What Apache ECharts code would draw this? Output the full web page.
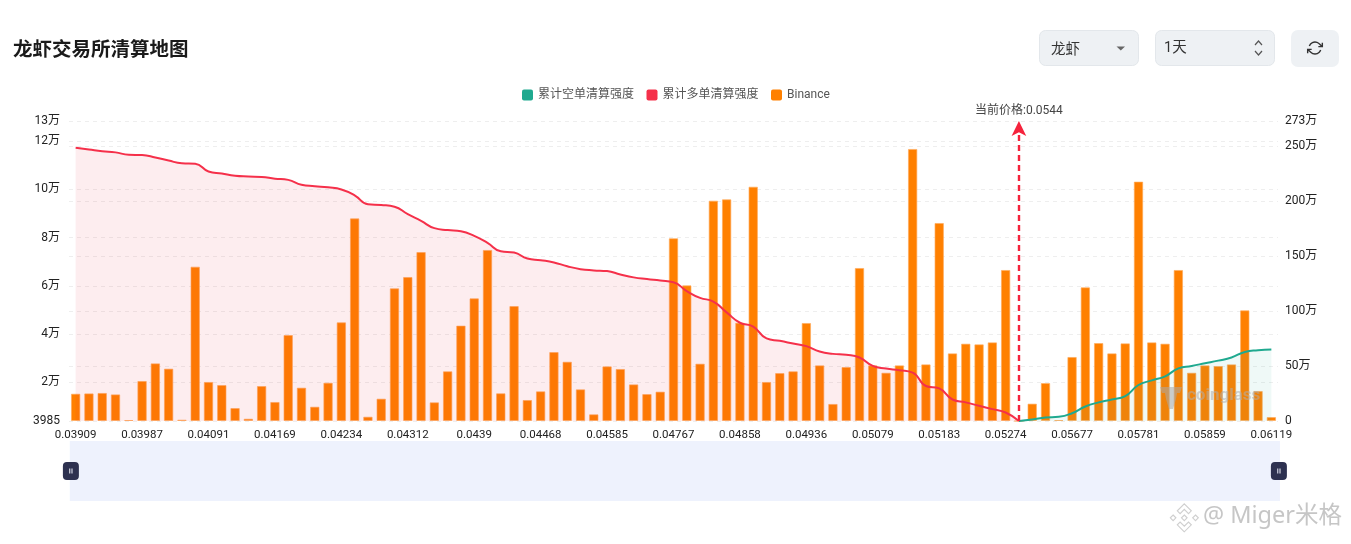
<!DOCTYPE html>
<html><head><meta charset="utf-8">
<style>html,body{margin:0;padding:0;background:#fff}#c{width:1351px;height:544px}</style>
<script src="https://cdn.jsdelivr.net/npm/echarts@6/dist/echarts.min.js"></script>
</head><body><div id="c"></div>
<script>
// Only every fifth price level is legible in the picture; the others stay blank.
const categories = [
'0.03909','','','','','0.03987','','','','','0.04091','','','','','0.04169','','','','',
'0.04234','','','','','0.04312','','','','','0.0439','','','','','0.04468','','','','',
'0.04585','','','','','0.04767','','','','','0.04858','','','','','0.04936','','','','',
'0.05079','','','','','0.05183','','','','','0.05274','','','','','0.05677','','','','',
'0.05781','','','','','0.05859','','','','','0.06119'];
// All values in units of 万
const binance = [
24.8,25.1,25.5,24.2,0.9,36.4,52.4,47.6,1.2,140.3,
35.5,32.7,11.8,2.1,31.8,17.3,78.2,30.3,13,34.8,
89.7,184.2,3.9,20.3,120.6,130.9,153.6,17,45.2,86.7,
111.5,155.5,25.2,104.5,19.1,27,62.7,53.9,28.8,6.1,
49.7,47.3,33.3,24.5,26.7,166.1,123.3,52.1,200.3,201.5,
89.4,213,35.5,43.6,45.2,89.1,50.6,15.5,49.1,139.1,
50.6,43.9,50.6,247.3,51.5,180,61.5,70.3,69.7,71.5,
137.3,0,15.8,34.5,0.9,58.2,121.5,70.9,61.5,70.6,
217.6,71.5,70.3,137.3,43.9,50.6,50,51.5,100.6,27.3,3.6];
const longLiq = [
11.72,11.65,11.58,11.53,11.43,11.42,11.32,11.19,11.08,11.06,
10.74,10.65,10.56,10.53,10.51,10.44,10.39,10.19,10.13,10.08,
9.99,9.75,9.38,9.35,9.28,8.97,8.69,8.39,8.31,8.26,
8.07,7.78,7.43,7.38,7.13,7.06,6.97,6.81,6.69,6.64,
6.61,6.47,6.35,6.28,6.22,6.15,5.78,5.5,5.35,4.9,
4.47,4.31,3.82,3.72,3.61,3.5,3.28,3.18,3.14,3.03,
2.68,2.57,2.5,2.4,1.85,1.75,1.29,1.17,1.03,0.89,
0.75,0.3985];
const shortLiq = [
null,null,null,null,null,null,null,null,null,null,null,null,null,null,null,null,null,null,null,null,
null,null,null,null,null,null,null,null,null,null,null,null,null,null,null,null,null,null,null,null,
null,null,null,null,null,null,null,null,null,null,null,null,null,null,null,null,null,null,null,null,
null,null,null,null,null,null,null,null,null,null,null,
0.3985,0.46,0.54,0.57,0.72,1.0,1.17,1.29,1.43,1.89,
2.08,2.25,2.58,2.68,2.79,2.9,3.03,3.26,3.33,3.36];
const leftAxisRange = [0.3985, 12.83];
const leftTicks = [0.3985,2,4,6,8,10,12,12.83];
const rightAxisRange = [0, 272.7];
const currentPriceIndex = 71;
const currentPriceLabel = '当前价格:0.0544';
const legendNames = ['累计空单清算强度','累计多单清算强度','Binance'];

const FONT = 'Roboto, "Noto Sans CJK SC", sans-serif';
const wan = v => v < 1 && v > 0 ? String(Math.round(v*10000)) : (v === 0 ? '0' : Math.round(v)+'万');
const handle = 'path://M4 0H12A4 4 0 0 1 16 4V14A4 4 0 0 1 12 18H4A4 4 0 0 1 0 14V4A4 4 0 0 1 4 0ZM6.4 6.5V11.5H7.4V6.5ZM8.6 6.5V11.5H9.6V6.5Z';
echarts.graphic.registerShape('iconRefresh', echarts.graphic.extendPath('M23 4v6h-6M1 20v-6h6M3.51 9a9 9 0 0 1 14.85-3.36L23 10M1 14l4.64 4.36A9 9 0 0 0 20.49 15'));
echarts.graphic.registerShape('iconGlass', echarts.graphic.extendPath('M0 2H22L20 8H17L16 14L13 24H9L6 14L5 8H2Z'));
echarts.graphic.registerShape('iconBadge', echarts.graphic.extendPath('M12 2l5 5-2 2-3-3-3 3-2-2zM12 22l-5-5 2-2 3 3 3-3 2 2zM4 10l2 2-2 2-2-2zM20 10l2 2-2 2-2-2zM12 10l2 2-2 2-2-2z'));
const chart = echarts.init(document.getElementById('c'), null, {renderer:'canvas'});
const split = {show:true, lineStyle:{color:'#eeeeee', type:[4,4], width:1}};
chart.setOption({
  animation:false,
  backgroundColor:'#fff',
  title:{text:'龙虾交易所清算地图', left:8, top:34,
    textStyle:{fontFamily:'"Noto Sans CJK SC", sans-serif', fontSize:19.5, fontWeight:'bold', color:'#1a1a1a'}},
  legend:{data:legendNames, top:84, left:517, itemWidth:11, itemHeight:11, itemGap:12.5,
    icon:'path://M2 0H9A2 2 0 0 1 11 2V9A2 2 0 0 1 9 11H2A2 2 0 0 1 0 9V2A2 2 0 0 1 2 0Z',
    itemStyle:{borderWidth:0},
    textStyle:{fontFamily:FONT, fontSize:12, color:'#555'}},
  grid:{left:69, right:73, top:121, bottom:123, containLabel:false},
  xAxis:{type:'category', data:categories, boundaryGap:true,
    axisLine:{show:false}, axisTick:{show:false}, splitLine:{show:false},
    axisLabel:{interval:4, margin:8, fontFamily:FONT, fontSize:11.5, color:'#222', hideOverlap:false}},
  yAxis:[
    {type:'value', min:leftAxisRange[0], max:leftAxisRange[1], position:'left',
     axisLine:{show:false}, axisTick:{show:false, customValues:leftTicks}, splitLine:split,
     axisLabel:{customValues:leftTicks, formatter:wan, margin:9, fontFamily:FONT, fontSize:12, color:'#222'}},
    {type:'value', min:rightAxisRange[0], max:rightAxisRange[1], interval:50, position:'right',
     axisLine:{show:false}, axisTick:{show:false}, splitLine:split,
     axisLabel:{formatter:wan, margin:7, fontFamily:FONT, fontSize:12, color:'#222'}}
  ],
  dataZoom:[{type:'slider', xAxisIndex:0, start:0, end:100, left:69, right:72, top:441, height:60,
    backgroundColor:'#eef2fd', fillerColor:'#eef2fd', borderColor:'transparent',
    showDetail:false, showDataShadow:false, brushSelect:false,
    moveHandleSize:0, handleIcon:handle, handleSize:18,
    handleStyle:{color:'#2d3150', borderColor:'#2d3150', borderWidth:0},
    dataBackground:{lineStyle:{opacity:0},areaStyle:{opacity:0}}}],
  series:[
    {name:legendNames[2], type:'bar', yAxisIndex:1, data:binance, barWidth:9.4, z:1,
     itemStyle:{color:'#ff8000', borderColor:'rgba(255,170,90,0.65)', borderWidth:1}},
    {name:legendNames[1], type:'line', yAxisIndex:0, data:longLiq, smooth:true, showSymbol:false, z:3,
     lineStyle:{color:'#f5304a', width:2}, itemStyle:{color:'#f5304a'}, areaStyle:{color:'rgba(225,25,45,0.115)'}},
    {name:legendNames[0], type:'line', yAxisIndex:0, data:shortLiq, smooth:true, showSymbol:false, z:3,
     lineStyle:{color:'#1fa98f', width:2}, itemStyle:{color:'#1fa98f'}, areaStyle:{color:'rgba(31,169,143,0.1)'},
     markLine:{silent:true, symbol:['none','arrow'], symbolSize:[11,15], animation:false,
       lineStyle:{color:'#f5233c', type:[6,4], width:2.4},
       label:{show:true, position:'end', distance:4, formatter:currentPriceLabel, fontFamily:FONT, fontSize:12, color:'#444'},
       data:[{xAxis:currentPriceIndex}]}}
  ],
  graphic:[
    {type:'rect', shape:{x:1039.5,y:30.5,width:99,height:35,r:6}, style:{fill:'#eef1f4',stroke:'#e3e7eb',lineWidth:1}},
    {type:'text', x:1051, y:41, style:{text:'龙虾', fontFamily:'"Noto Sans CJK SC"', fontSize:14.5, fill:'#333'}},
    {type:'polygon', shape:{points:[[1116.5,46.5],[1125,46.5],[1120.8,50.5]]}, style:{fill:'#666'}},
    {type:'rect', shape:{x:1155.5,y:30.5,width:119,height:35,r:6}, style:{fill:'#eef1f4',stroke:'#e3e7eb',lineWidth:1}},
    {type:'text', x:1164, y:41, style:{text:'1天', fontFamily:'Roboto, "Noto Sans CJK SC"', fontSize:14.5, fill:'#333'}},
    {type:'polyline', shape:{points:[[1255,45],[1258.5,41],[1262,45]]}, style:{fill:'none',stroke:'#555',lineWidth:1.2}},
    {type:'polyline', shape:{points:[[1255,51],[1258.5,55],[1262,51]]}, style:{fill:'none',stroke:'#555',lineWidth:1.2}},
    {type:'rect', shape:{x:1291,y:30,width:48,height:37,r:7}, style:{fill:'#eef1f4'}},
    {type:'iconRefresh', x:1307, y:40, scaleX:0.667, scaleY:0.667, style:{fill:'none',stroke:'#333',lineWidth:2.1}},
    // coinglass watermark
    {type:'iconGlass', z:50, x:1160, y:385, style:{fill:'rgba(170,170,170,0.55)'}},
    {type:'text', z:50, x:1187, y:387, style:{text:'coinglass', fontFamily:'Roboto', fontWeight:'bold', fontSize:17, fill:'rgba(175,175,175,0.55)'}},
    // Miger badge
    {type:'iconBadge', z:50, x:1167.5, y:501, scaleX:1.4, scaleY:1.4, style:{fill:'#fff',stroke:'#cfcfcf',lineWidth:0.8}},
    {type:'text', z:50, x:1203, y:505, style:{text:'@ Miger米格', fontFamily:'"Noto Sans","Noto Sans CJK SC"', fontSize:23.5, fill:'#c6c6c6'}}
  ]
});
</script></body></html>
